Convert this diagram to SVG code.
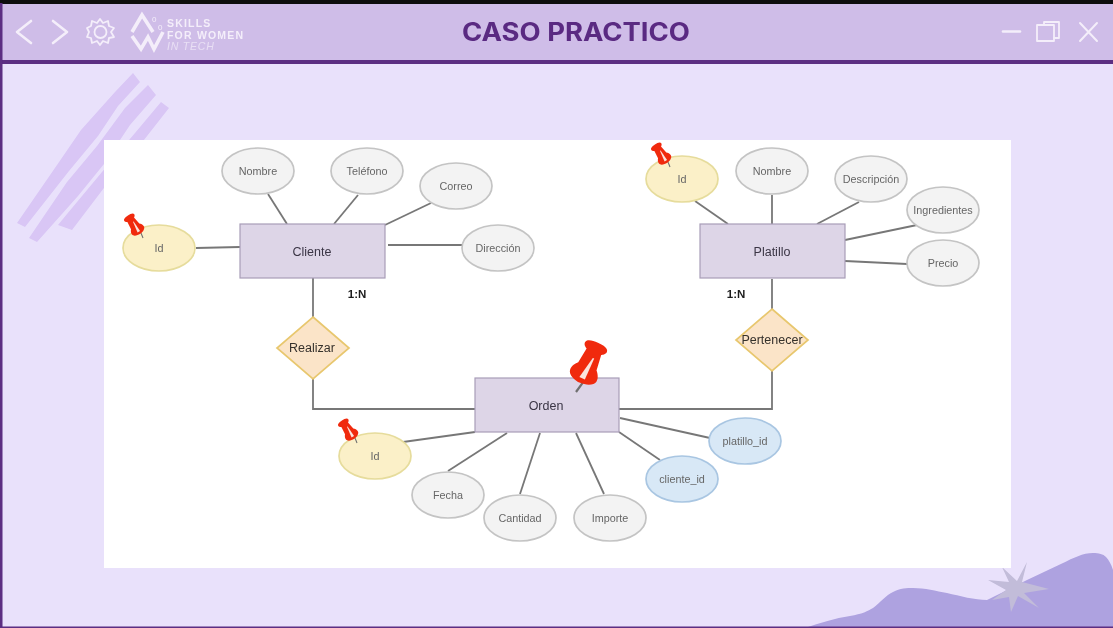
<svg xmlns="http://www.w3.org/2000/svg" width="1113" height="628" viewBox="0 0 1113 628">
<style>
.lbl{font-family:"Liberation Sans",Arial,sans-serif;text-anchor:middle;dominant-baseline:central}
.attr{font-size:10.8px;fill:#666}
.ent{font-size:12.5px;fill:#3a3545}
.rel{font-size:12.5px;fill:#35302c}
.card{font-size:11.5px;font-weight:700;fill:#1c1c1c}
.e{stroke-width:1.7}
.grey{fill:#f3f3f3;stroke:#c4c4c4}
.yellow{fill:#fbf0c8;stroke:#e6dc9c}
.blue{fill:#d8e8f6;stroke:#a9c6e2}
.box{fill:#ddd5e7;stroke:#a89db8;stroke-width:1.2}
.dia{fill:#fbe4c8;stroke:#e8c76e;stroke-width:1.7}
.con{fill:none;stroke:#777;stroke-width:1.8}
.ui{fill:none;stroke:#f4eefa;stroke-width:2.6;stroke-linecap:round;stroke-linejoin:round}
.logo{font-family:"Liberation Sans",Arial,sans-serif;fill:#f4eefa;font-weight:700;font-size:10.5px;letter-spacing:1.2px}
.dig{font-size:8px;font-weight:400;letter-spacing:0}
</style>
<defs>
<filter id="soft" x="-5%" y="-5%" width="110%" height="110%"><feGaussianBlur stdDeviation="0.55"/></filter>
<g id="pin">
<path d="M0 0L3 -14" stroke="#6f6f6f" stroke-width="2.2" fill="none"/>
<path d="M-12 -49C-12 -53 -6 -54 0 -54C6 -54 12 -53 12 -49C12 -46 9 -44.500 8 -44L10 -28C12 -26 15 -22 14.500 -18C14 -13 6 -10 0 -10C-6 -10 -14 -13 -14.500 -18C-15 -22 -12 -26 -10 -28L-8 -44C-9 -44.500 -12 -46 -12 -49Z" fill="#f02a10"/>
<path d="M-3 -15L3 -15L3 -38L1.500 -38Z" fill="#fbe4dd"/>
</g>
</defs>
<rect width="1113" height="628" fill="#e9e1fb"/>
<g id="background" filter="url(#soft)">
<path d="M805 628C820 623 835 618 850 616C862 614 868 611 873 608C881 602 885 596 893 592C900 588 907 588 913 588C925 588 936 591 947 593C960 596 975 600 987 600C1000 594 1013 587 1027 580C1039 574 1051 569 1063 563C1073 558 1083 553 1093 553C1099 553 1103 554 1106 557C1109 560 1111 564 1113 570V628Z" fill="#aea2e0"/>
<path d="M1027 562L1022 582L1049 589L1024 593L1039 608L1018 596L1011 612L1009 597L992 600L1006 590L988 580L1009 582L1002 567L1017 581Z" fill="#c2bcd9"/>
<g fill="#d9c6f5">
<path d="M133 73L140 82L118 106L98 136L69 171L25 227L17 223L57 165L81 130L115 92Z"/>
<path d="M148 85L156 95L130 125L104 164L78 196L37 242L29 238L67 182L97 146L125 108Z"/>
<path d="M161 102L169 108L140 145L110 180L72 230L58 225L67 214L102 172L135 133Z"/>
</g>
</g>
<g id="titlebar" filter="url(#soft)">
<rect y="3" width="1113" height="58" fill="#cfbde8"/>
<rect y="0" width="1113" height="4" fill="#0c0a10"/>
<rect y="60" width="1113" height="4" fill="#5b2d82"/>
<rect x="0" y="3" width="2.5" height="625" fill="#5b2d82"/>
<rect x="0" y="626.500" width="1113" height="1.500" fill="#5b2d82"/>
<path d="M31 21L17 32L31 43" class="ui"/>
<path d="M53 21L67 32L53 43" class="ui"/>
<path d="M100 19L103 23L108 21L109 26L114 28L111 32L114 37L109 38L108 43L103 41L100 45L97 41L92 43L91 38L87 37L89 32L87 28L91 26L92 21L97 23Z" class="ui" style="stroke-width:1.8"/>
<circle cx="100.500" cy="32" r="6" class="ui" style="stroke-width:1.8"/>
<path d="M132 32L142 15L153 32M132 36L141 49L148 37L154 49L163 32" fill="none" stroke="#f4eefa" stroke-width="3.6"/>
<text x="167" y="27" class="logo">SKILLS</text>
<text x="167" y="39" class="logo">FOR WOMEN</text>
<text x="167" y="50" class="logo" style="font-weight:400;font-style:italic;opacity:.7;letter-spacing:.8px">IN TECH</text>
<text x="152" y="22" class="logo dig">0</text>
<text x="158" y="30" class="logo dig">0</text>
<text x="576" y="32" class="lbl" textLength="228" lengthAdjust="spacingAndGlyphs" style="font-family:Inter,'Liberation Sans',sans-serif;font-size:25px;font-weight:700;fill:#5a2a82">CASO PRACTICO</text>
<path d="M1003 31.500H1020" class="ui"/>
<path d="M1037 25H1054V41H1037Z" class="ui" style="stroke-width:1.8"/>
<path d="M1044 25V22H1059V38H1054" class="ui" style="stroke-width:1.8"/>
<path d="M1080 23L1097 41M1097 23L1080 41" class="ui" style="stroke-width:2"/>
</g>
<rect x="104" y="140" width="907" height="428" fill="#fff"/>
<g id="diagram" filter="url(#soft)">
<g id="connectors" class="con">
<path d="M196 248L240 247"/>
<path d="M268 194L287 224"/>
<path d="M358 195L334 224"/>
<path d="M431 203L385 225"/>
<path d="M388 245H462"/>
<path d="M313 278V317"/>
<path d="M313 379V409H475"/>
<path d="M695 201L728 224"/>
<path d="M772 195V224"/>
<path d="M859 202L817 224"/>
<path d="M917 225L845 240"/>
<path d="M907 264L845 261"/>
<path d="M772 279V309"/>
<path d="M772 371V409H619"/>
<path d="M403 442L475 432"/>
<path d="M448 471L507 433"/>
<path d="M520 494L540 433"/>
<path d="M604 494L576 433"/>
<path d="M660 460L619 432"/>
<path d="M710 438L620 418"/>
</g>
<g id="n-cliente"><rect x="240" y="224" width="145" height="54" class="box"/><text x="312" y="252" class="lbl ent">Cliente</text></g>
<g id="n-platillo"><rect x="700" y="224" width="145" height="54" class="box"/><text x="772" y="252" class="lbl ent">Platillo</text></g>
<g id="n-orden"><rect x="475" y="378" width="144" height="54" class="box"/><text x="546" y="406" class="lbl ent">Orden</text></g>
<g id="n-realizar"><path d="M313 317L349 348L313 379L277 348Z" class="dia"/><text x="312" y="348" class="lbl rel">Realizar</text></g>
<g id="n-pertenecer"><path d="M772 309L808 340L772 371L736 340Z" class="dia"/><text x="772" y="340" class="lbl rel">Pertenecer</text></g>
<g id="a-cliente-id"><ellipse cx="159" cy="248" rx="36" ry="23" class="e yellow"/><text x="159" y="248" class="lbl attr">Id</text></g>
<g id="a-cliente-nombre"><ellipse cx="258" cy="171" rx="36" ry="23" class="e grey"/><text x="258" y="171" class="lbl attr">Nombre</text></g>
<g id="a-cliente-telefono"><ellipse cx="367" cy="171" rx="36" ry="23" class="e grey"/><text x="367" y="171" class="lbl attr">Teléfono</text></g>
<g id="a-cliente-correo"><ellipse cx="456" cy="186" rx="36" ry="23" class="e grey"/><text x="456" y="186" class="lbl attr">Correo</text></g>
<g id="a-cliente-direccion"><ellipse cx="498" cy="248" rx="36" ry="23" class="e grey"/><text x="498" y="248" class="lbl attr">Dirección</text></g>
<g id="a-platillo-id"><ellipse cx="682" cy="179" rx="36" ry="23" class="e yellow"/><text x="682" y="179" class="lbl attr">Id</text></g>
<g id="a-platillo-nombre"><ellipse cx="772" cy="171" rx="36" ry="23" class="e grey"/><text x="772" y="171" class="lbl attr">Nombre</text></g>
<g id="a-platillo-descripcion"><ellipse cx="871" cy="179" rx="36" ry="23" class="e grey"/><text x="871" y="179" class="lbl attr">Descripción</text></g>
<g id="a-platillo-ingredientes"><ellipse cx="943" cy="210" rx="36" ry="23" class="e grey"/><text x="943" y="210" class="lbl attr">Ingredientes</text></g>
<g id="a-platillo-precio"><ellipse cx="943" cy="263" rx="36" ry="23" class="e grey"/><text x="943" y="263" class="lbl attr">Precio</text></g>
<g id="a-orden-id"><ellipse cx="375" cy="456" rx="36" ry="23" class="e yellow"/><text x="375" y="456" class="lbl attr">Id</text></g>
<g id="a-orden-fecha"><ellipse cx="448" cy="495" rx="36" ry="23" class="e grey"/><text x="448" y="495" class="lbl attr">Fecha</text></g>
<g id="a-orden-cantidad"><ellipse cx="520" cy="518" rx="36" ry="23" class="e grey"/><text x="520" y="518" class="lbl attr">Cantidad</text></g>
<g id="a-orden-importe"><ellipse cx="610" cy="518" rx="36" ry="23" class="e grey"/><text x="610" y="518" class="lbl attr">Importe</text></g>
<g id="a-orden-cliente"><ellipse cx="682" cy="479" rx="36" ry="23" class="e blue"/><text x="682" y="479" class="lbl attr">cliente_id</text></g>
<g id="a-orden-platillo"><ellipse cx="745" cy="441" rx="36" ry="23" class="e blue"/><text x="745" y="441" class="lbl attr">platillo_id</text></g>
<text x="357" y="294" class="lbl card">1:N</text>
<text x="736" y="294" class="lbl card">1:N</text>
<g id="pins">
<use href="#pin" transform="translate(143 238) rotate(-34) scale(.5)"/>
<use href="#pin" transform="translate(670 167) rotate(-34) scale(.5)"/>
<use href="#pin" transform="translate(357 443) rotate(-34) scale(.5)"/>
<use href="#pin" transform="translate(576 392) rotate(24)"/>
</g>
</g>
</svg>
